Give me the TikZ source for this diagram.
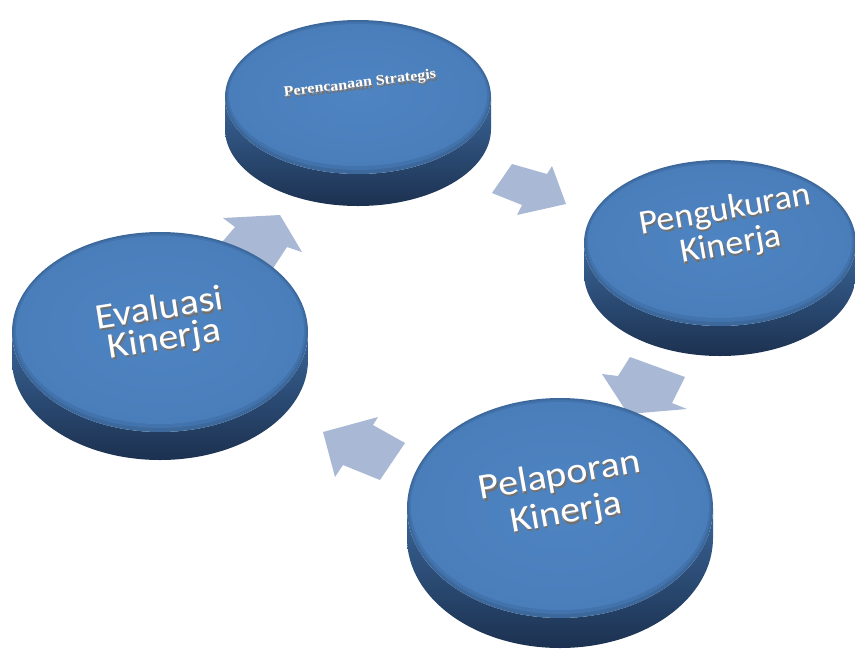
\documentclass[tikz,border=0pt]{standalone}
\usepackage{fontspec}
\setmainfont{Carlito}
\newfontfamily\pserif{Liberation Serif}
\definecolor{topc}{HTML}{4A7EBB}
\definecolor{topin}{HTML}{4E84C2}
\definecolor{edgec}{HTML}{3C689C}
\definecolor{sidetop}{HTML}{3A6598}
\definecolor{sidebot}{HTML}{1C3150}
\definecolor{arrowc}{HTML}{A9B9D5}
\definecolor{shA}{HTML}{A0A0A0}
\definecolor{shB}{HTML}{707070}
\tikzset{
  blockarrow/.style={fill=arrowc, draw=none},
  disctext/.style={align=center, inner sep=0pt},
}
% name, cx, cy, rx, ry, thickness
\newcommand\mydisc[6]{%
 \begin{scope}[shift={(#2,#3)}]
  \shade[top color=sidetop, bottom color=sidebot]
    (-#4,0) -- (-#4,#6) arc[start angle=180,end angle=0,x radius=#4,y radius=#5]
    -- (#4,0) arc[start angle=0,end angle=180,x radius=#4,y radius=#5] -- cycle;
  \fill[edgec] (0,0) ellipse[x radius=#4, y radius=#5];
  \fill[edgec!50!topc] (0,-1) ellipse[x radius={#4-2}, y radius={#5-3}];
  \shade[inner color=topin, outer color=topc] (0,-2) ellipse[x radius={#4-4}, y radius={#5-6}];
  \coordinate (#1) at (0,0);
 \end{scope}}
% name, x, y, angle, yscale, font, text
\newcommand\mytext[7]{%
  \node[disctext, font=#6, text=shA, rotate=#4, yscale=#5] (#1a) at ({#2+0.7},{#3+1.1}) {#7};
  \node[disctext, font=#6, text=shB, rotate=#4, yscale=#5] (#1b) at ({#2+1.4},{#3+2.2}) {#7};
  \node[disctext, font=#6, text=white, rotate=#4, yscale=#5] (#1) at (#2,#3) {#7};}
\begin{document}
\begin{tikzpicture}[x=1pt,y=-1pt]
\useasboundingbox (0,0) rectangle (855,649);
% block arrows (behind discs)
\fill[blockarrow] (492,193) -- (512,164) -- (547,174) -- (552,166) -- (566,204) -- (517,215) -- (522,205) -- cycle;
\fill[blockarrow] (602,374) -- (618,376) -- (630,357) -- (685,377) -- (672,403) -- (687,409) -- (628,414) -- cycle;
\fill[blockarrow] (323,432) -- (378,417) -- (373,425) -- (405,443) -- (380,480) -- (343,465) -- (335,477) -- cycle;
\fill[blockarrow] (223,218) -- (280,215) -- (302,252) -- (287,247) -- (262,285) -- (205,262) -- (235,227) -- cycle;
% discs
\mydisc{d1}{358}{97}{133}{77}{32}
\mydisc{d2}{720}{243}{136}{83}{30}
\mydisc{d3}{560}{508}{153}{110}{30}
\mydisc{d4}{160}{332}{148}{100}{28}
% texts
\mytext{t1}{360}{84}{7}{0.9}{\pserif\bfseries\fontsize{16}{18}\selectfont}{Perencanaan Strategis}
\mytext{t2}{728}{228}{10}{0.95}{\fontsize{36}{37}\selectfont}{Pengukuran\\Kinerja}
\mytext{t3}{563}{495}{10}{0.9}{\fontsize{40}{42}\selectfont}{Pelaporan\\Kinerja}
\mytext{t4}{162}{325}{9}{0.9}{\fontsize{40}{34}\selectfont}{Evaluasi\\Kinerja}
\end{tikzpicture}
\end{document}
